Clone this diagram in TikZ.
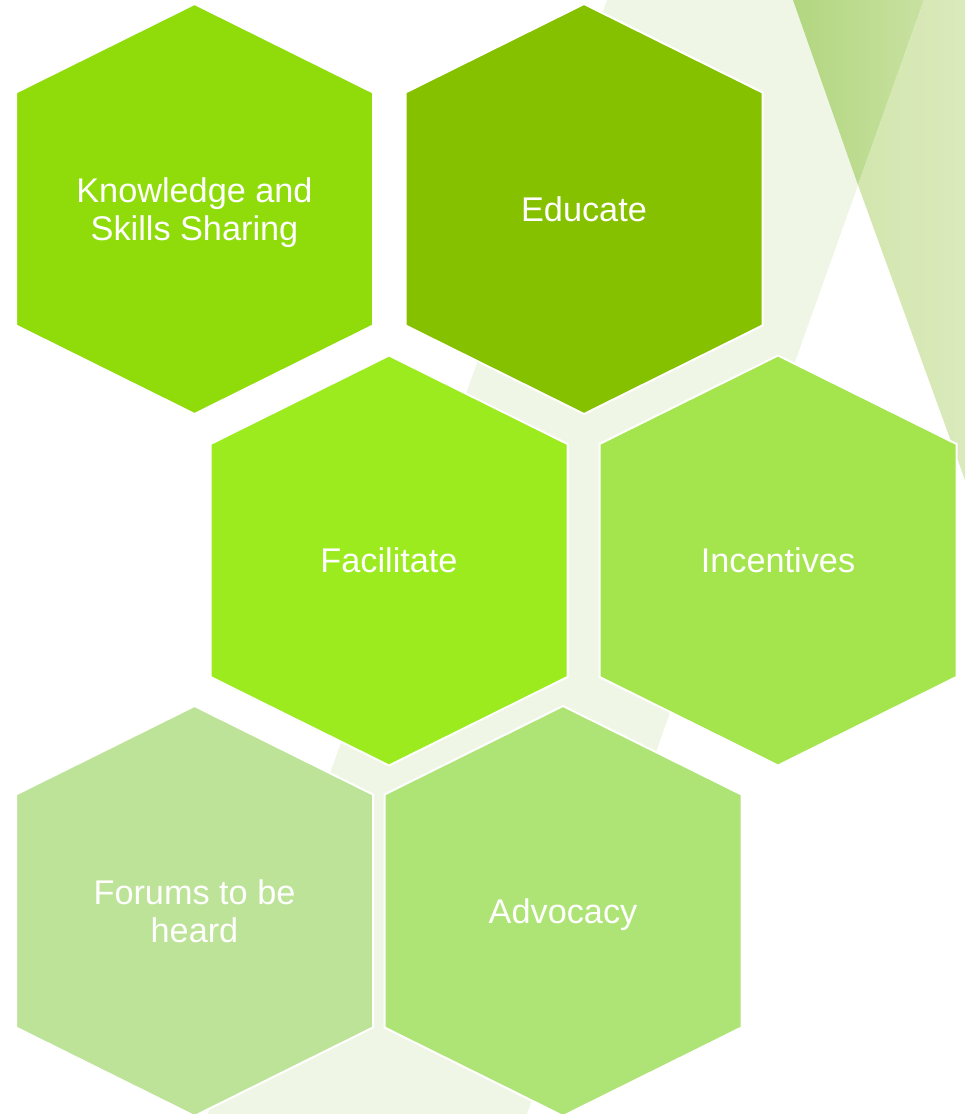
\documentclass[tikz,border=0pt]{standalone}
\usepackage{fontspec}
\setmainfont{Liberation Sans}
\begin{document}
\begin{tikzpicture}[hexlabel/.style={text=white, align=center, inner sep=0pt, text depth=0pt, font=\fontsize{19.5}{21.5}\selectfont}]
                            \useasboundingbox (0,0) rectangle (19.300000,22.280000);
                            \clip (0,0) rectangle (19.300000,22.280000);
                            {

                            % Changing color 239 246 230
                            \definecolor{r239g246b230}{rgb}{0.937255,0.964706,0.901961}%

                            % Filling background band
                            \fill [r239g246b230] (12.140000,22.280000) -- (18.480000,22.280000) -- (10.540000,0.000000) -- (4.160000,0.000000) -- cycle;%

                            % Changing color 178 214 128 and 200 225 160
                            \definecolor{r178g214b128}{rgb}{0.698039,0.839216,0.501961}%
                            \definecolor{r200g225b160}{rgb}{0.784314,0.882353,0.627451}%

                            % Shading corner wedge
                            \shade [left color=r178g214b128, right color=r200g225b160] (15.860000,22.280000) -- (18.480000,22.280000) -- (17.160000,18.580000) -- cycle;%

                            % Changing color 211 230 174 and 218 234 188
                            \definecolor{r211g230b174}{rgb}{0.827451,0.901961,0.682353}%
                            \definecolor{r218g234b188}{rgb}{0.854902,0.917647,0.737255}%

                            % Shading corner band
                            \shade [left color=r211g230b174, right color=r218g234b188] (18.480000,22.280000) -- (19.300000,22.280000) -- (19.300000,12.680000) -- (17.160000,18.580000) -- cycle;%

                            % Changing color 143 220 10
                            \definecolor{r143g220b10}{rgb}{0.560784,0.862745,0.039216}%

                            % Filling hexagon knowledge
                            \filldraw [fill=r143g220b10, draw=white, line width=0.040000cm] (3.890000,22.200000) -- (7.460000,20.430000) -- (7.460000,15.770000) -- (3.890000,14.000000) -- (0.320000,15.770000) -- (0.320000,20.430000) -- cycle;%
                            \node (knowledge) [hexlabel] at (3.890000,18.100000) {Knowledge and\\Skills Sharing};%

                            % Changing color 134 193 0
                            \definecolor{r134g193b0}{rgb}{0.525490,0.756863,0.000000}%

                            % Filling hexagon educate
                            \filldraw [fill=r134g193b0, draw=white, line width=0.040000cm] (11.680000,22.200000) -- (15.250000,20.430000) -- (15.250000,15.770000) -- (11.680000,14.000000) -- (8.110000,15.770000) -- (8.110000,20.430000) -- cycle;%
                            \node (educate) [hexlabel] at (11.680000,18.100000) {Educate};%

                            % Changing color 155 235 31
                            \definecolor{r155g235b31}{rgb}{0.607843,0.921569,0.121569}%

                            % Filling hexagon facilitate
                            \filldraw [fill=r155g235b31, draw=white, line width=0.040000cm] (7.780000,15.170000) -- (11.350000,13.400000) -- (11.350000,8.740000) -- (7.780000,6.970000) -- (4.210000,8.740000) -- (4.210000,13.400000) -- cycle;%
                            \node (facilitate) [hexlabel] at (7.780000,11.070000) {Facilitate};%

                            % Changing color 164 228 76
                            \definecolor{r164g228b76}{rgb}{0.643137,0.894118,0.298039}%

                            % Filling hexagon incentives
                            \filldraw [fill=r164g228b76, draw=white, line width=0.040000cm] (15.560000,15.170000) -- (19.130000,13.400000) -- (19.130000,8.740000) -- (15.560000,6.970000) -- (11.990000,8.740000) -- (11.990000,13.400000) -- cycle;%
                            \node (incentives) [hexlabel] at (15.560000,11.070000) {Incentives};%

                            % Changing color 189 227 152
                            \definecolor{r189g227b152}{rgb}{0.741176,0.890196,0.596078}%

                            % Filling hexagon forums
                            \filldraw [fill=r189g227b152, draw=white, line width=0.040000cm] (3.890000,8.160000) -- (7.460000,6.390000) -- (7.460000,1.730000) -- (3.890000,-0.040000) -- (0.320000,1.730000) -- (0.320000,6.390000) -- cycle;%
                            \node (forums) [hexlabel] at (3.890000,4.060000) {Forums to be\\heard};%

                            % Changing color 174 227 117
                            \definecolor{r174g227b117}{rgb}{0.682353,0.890196,0.458824}%

                            % Filling hexagon advocacy
                            \filldraw [fill=r174g227b117, draw=white, line width=0.040000cm] (11.260000,8.160000) -- (14.830000,6.390000) -- (14.830000,1.730000) -- (11.260000,-0.040000) -- (7.690000,1.730000) -- (7.690000,6.390000) -- cycle;%
                            \node (advocacy) [hexlabel] at (11.260000,4.060000) {Advocacy};%
                            \color{black}
                            }
\end{tikzpicture}
\end{document}
